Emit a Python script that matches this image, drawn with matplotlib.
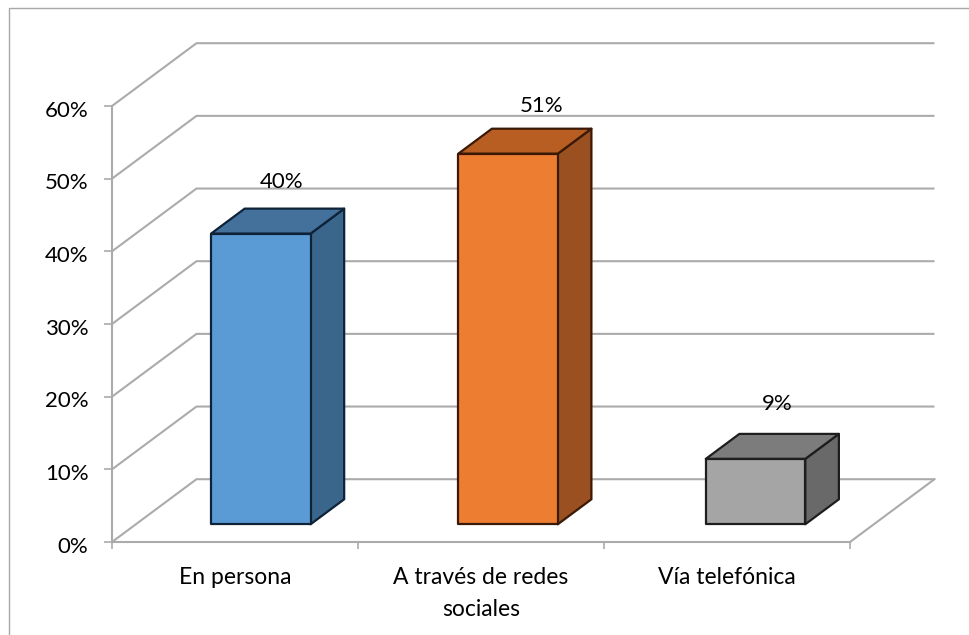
import matplotlib
matplotlib.use("Agg")
import matplotlib.pyplot as plt
from matplotlib.patches import Polygon
from matplotlib.transforms import ScaledTranslation

categories = ["En persona", "A través de redes\nsociales", "Vía telefónica"]
values = [40, 51, 9]
value_labels = ["40%", "51%", "9%"]
yticks = [0, 10, 20, 30, 40, 50, 60]

front_colors = ["#5B9BD5", "#ED7D31", "#A5A5A5"]
top_colors = ["#44719C", "#B85E22", "#7C7C7C"]
side_colors = ["#3B668C", "#9A5020", "#696969"]
edge_colors = ["#0E2238", "#3A1A06", "#1E1E1E"]
grid_color = "#ABABAB"

W, H = 970, 635
plt.rcParams["font.family"] = ["Lato", "DejaVu Sans"]

fig = plt.figure(figsize=(W / 100, H / 100), dpi=100)
# front plane of the fake 3d box, pixels from the top left of the picture
left, right, top, bottom = 112, 850, 106, 542
ax = fig.add_axes([left / W, 1 - bottom / H, (right - left) / W, (bottom - top) / H])
ax.set_xlim(0, 3)
ax.set_ylim(0, 60)
ax.patch.set_alpha(0)

# how far the back wall sits from the front plane, in data units
depth_x = 84.5 / ((right - left) / 3)
depth_y = 62.8 / ((bottom - top) / 60)


def project(x, y, d):
    return x + d * depth_x, y + d * depth_y


for t in yticks:
    xs, ys = zip(project(0, t, 0), project(0, t, 1), project(3, t, 1))
    ax.plot(xs, ys, color=grid_color, lw=1.5, clip_on=False, zorder=1, solid_capstyle="butt")
# floor edge on the right
xs, ys = zip(project(3, 0, 0), project(3, 0, 1))
ax.plot(xs, ys, color=grid_color, lw=1.5, clip_on=False, zorder=1)

bar_width = 99.5 / ((right - left) / 3)
near = 0.282
far = 0.68
shift = [0.008, 0.013, 0.019]
label_nudge = [(-9, 12), (0, 9.5), (-8.5, 14)]

for i, v in enumerate(values):
    x0 = i + 0.5 - bar_width / 2 + shift[i]
    x1 = x0 + bar_width
    front = [project(x0, 0, near), project(x1, 0, near), project(x1, v, near), project(x0, v, near)]
    side = [project(x1, 0, near), project(x1, 0, far), project(x1, v, far), project(x1, v, near)]
    lid = [project(x0, v, near), project(x1, v, near), project(x1, v, far), project(x0, v, far)]
    for pts, col in [(side, side_colors[i]), (lid, top_colors[i]), (front, front_colors[i])]:
        ax.add_patch(Polygon(pts, closed=True, facecolor=col, edgecolor=edge_colors[i],
                             lw=1.6, joinstyle="round", clip_on=False, zorder=3))
    lx, ly = project(x0 + bar_width / 2, v, far)
    ax.annotate(value_labels[i], (lx, ly), xytext=label_nudge[i], textcoords="offset points",
                ha="center", va="bottom", fontsize=16, color="black", zorder=5,
                annotation_clip=False)

for s in ["top", "right"]:
    ax.spines[s].set_visible(False)
for s in ["left", "bottom"]:
    ax.spines[s].set_color(grid_color)
    ax.spines[s].set_linewidth(1.5)
    ax.spines[s].set_zorder(2)

ax.set_yticks(yticks)
ax.set_yticklabels([f"{t}%" for t in yticks], fontsize=16, color="black")
ax.tick_params(axis="y", length=6, width=1.2, color=grid_color, pad=11)
# percent labels sit a little under their ticks
for lab in ax.get_yticklabels():
    lab.set_transform(lab.get_transform() + ScaledTranslation(0, -2 / 72, fig.dpi_scale_trans))
ax.set_xticks([0, 1, 2, 3])
ax.set_xticklabels([])
ax.tick_params(axis="x", which="major", length=5, width=1.2, color=grid_color)
ax.set_xticks([0.5, 1.5, 2.5], minor=True)
ax.set_xticklabels(categories, minor=True, fontsize=16.5, color="black", linespacing=1.62)
ax.tick_params(axis="x", which="minor", length=0, pad=18)

# outer chart frame, open at the bottom and right where the picture is cut
fig.add_artist(plt.Line2D([9.5 / W, 9.5 / W, 1], [0, 1 - 7.5 / H, 1 - 7.5 / H],
                          color="#A8A8A8", lw=1.0))

fig.savefig("out.png", dpi=100)
